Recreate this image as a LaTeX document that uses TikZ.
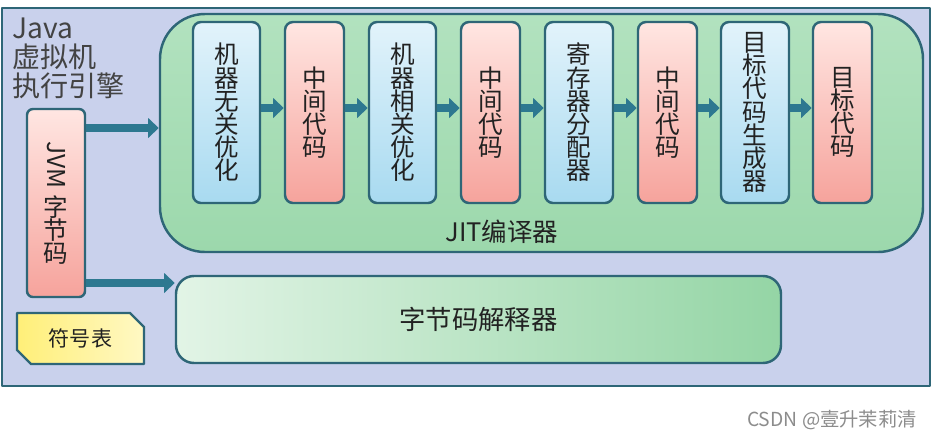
\documentclass[tikz,border=0pt]{standalone}
\usepackage{fontspec}
\setmainfont{Noto Sans CJK SC}
\usepackage{graphicx}
\usepackage{xcolor}
\usetikzlibrary{arrows.meta,shapes.misc}

\definecolor{framec}{HTML}{2E6677}
\definecolor{framefill}{HTML}{C9D1EC}
\definecolor{jittop}{HTML}{B2E2BF}
\definecolor{jitbot}{HTML}{9CD8AC}
\definecolor{interpleft}{HTML}{E2F4E6}
\definecolor{interpright}{HTML}{94D5A5}
\definecolor{bluetop}{HTML}{E2F3FB}
\definecolor{bluebot}{HTML}{A8DAF0}
\definecolor{pinktop}{HTML}{FFE6E2}
\definecolor{pinkbot}{HTML}{F6A39C}
\definecolor{symleft}{HTML}{FFEF78}
\definecolor{symright}{HTML}{FFF8C4}
\definecolor{arrowc}{HTML}{2D7890}
\definecolor{textc}{HTML}{222222}
\newlength\pxu
\setlength\pxu{0.02cm}

\begin{document}
\begin{tikzpicture}[x=0.02cm, y=-0.02cm, line join = round, line cap = round,
    edge/.style={draw=framec, line width=1.4pt},
    bluebox/.style={edge, rounded corners=8\pxu, top color=bluetop, bottom color=bluebot,
      minimum height=181\pxu, inner sep=0pt, align=center, text=textc,
      font=\fontsize{14}{13.2}\selectfont},
    pinkbox/.style={bluebox, top color=pinktop, bottom color=pinkbot, minimum width=59\pxu},
    flow/.style={draw=arrowc, line width=4pt, line cap=butt, -{Triangle[length=6pt, width=11pt]}}]

                \useasboundingbox (0,0) rectangle (934,444);
                \coordinate (h0) at (0,108);
                \coordinate (h1) at (0,128);
                \coordinate (h2) at (0,283);

                % frame and the two engines
                \node[edge, fill=framefill, minimum width=928\pxu, minimum height=378\pxu] (frame) at (466,197) {};
                \node[edge, rounded corners=45\pxu, top color=jittop, bottom color=jitbot,
                  minimum width=763\pxu, minimum height=238\pxu] (jit) at (541.5,133) {};
                \node[edge, rounded corners=18\pxu, left color=interpleft, right color=interpright,
                  minimum width=605\pxu, minimum height=87\pxu, text=textc, font=\fontsize{15}{15}\selectfont]
                  (interp) at (478.5,319.5) {字节码解释器};
                \node[anchor=north west, align=left, text=textc!85!white, font=\fontsize{16}{16.5}\selectfont,
                  inner sep=0pt] (engine) at (12,18) {Java\\虚拟机\\执行引擎};
                \node[text=textc, font=\fontsize{14.5}{14.5}\selectfont] (jitlbl) at (502,232) {JIT编译器};

                % JIT stages
                \node[bluebox, minimum width=67\pxu] (b1) at (226.5,112.5) {机\\器\\无\\关\\优\\化};
                \node[pinkbox] (b2) at (314.5,112.5) {中\\间\\代\\码};
                \node[bluebox, minimum width=67\pxu] (b3) at (402.5,112.5) {机\\器\\相\\关\\优\\化};
                \node[pinkbox] (b4) at (490.5,112.5) {中\\间\\代\\码};
                \node[bluebox, minimum width=68\pxu] (b5) at (579,112.5) {寄\\存\\器\\分\\配\\器};
                \node[pinkbox] (b6) at (667.5,112.5) {中\\间\\代\\码};
                \node[bluebox, minimum width=68\pxu] (b7) at (755,112.5) {目\\标\\代\\码\\生\\成\\器};
                \node[pinkbox] (b8) at (842.5,112.5) {目\\标\\代\\码};

                % byte code and symbol table
                \node[pinkbox, rounded corners=6\pxu, minimum width=58\pxu, minimum height=188\pxu]
                  (jvm) at (56,203) {\rotatebox{-90}{JVM}\\[3pt]字\\节\\码};
                \node[edge, chamfered rectangle, chamfered rectangle corners={north east, south west},
                  chamfered rectangle xsep=7\pxu, chamfered rectangle ysep=7\pxu,
                  left color=symleft, right color=symright,
                  minimum width=127\pxu, minimum height=51\pxu, inner sep=0pt, text=textc,
                  font=\fontsize{12}{12}\selectfont] (symtab) at (80.5,338.5) {符号表};

                \node[text=black!45, font=\fontsize{11}{11}\selectfont] (mark) at (832,420) {CSDN @壹升茉莉清};

                \draw[flow] (jvm.east |- h1) -- (jit.west |- h1);
                \draw[flow] (jvm.east |- h2) -- (interp.west |- h2);
                \draw[flow] (b1.east |- h0) -- (b2.west |- h0);
                \draw[flow] (b2.east |- h0) -- (b3.west |- h0);
                \draw[flow] (b3.east |- h0) -- (b4.west |- h0);
                \draw[flow] (b4.east |- h0) -- (b5.west |- h0);
                \draw[flow] (b5.east |- h0) -- (b6.west |- h0);
                \draw[flow] (b6.east |- h0) -- (b7.west |- h0);
                \draw[flow] (b7.east |- h0) -- (b8.west |- h0);
              \end{tikzpicture}
\end{document}
